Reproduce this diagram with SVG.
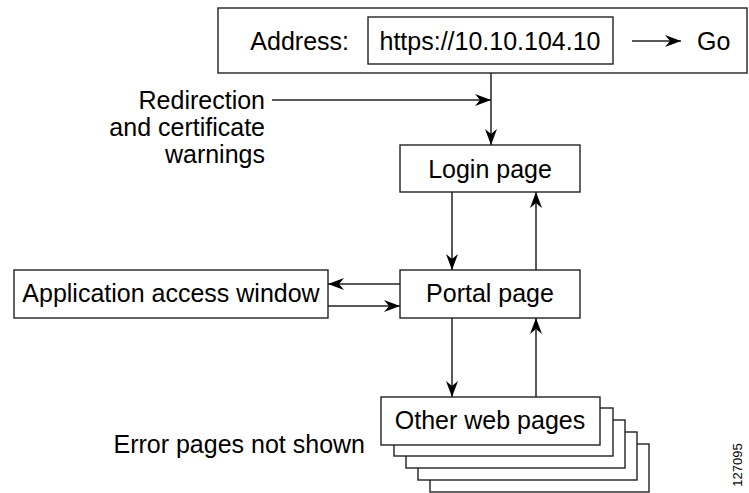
<svg xmlns="http://www.w3.org/2000/svg" width="749" height="493" viewBox="0 0 749 493">
<style>
text{font-family:"Liberation Sans",Arial,sans-serif;font-size:25px;fill:#000}
.box{fill:#fff;stroke:#222;stroke-width:1.4}
.ln{fill:none;stroke:#222;stroke-width:1.5}
</style>
<defs>
<marker id="ah" markerUnits="userSpaceOnUse" markerWidth="18" markerHeight="14" refX="16" refY="6.5" orient="auto">
<path d="M0,0.5 L16,6.5 L0,12.5 L5,6.5 z" fill="#000"/>
</marker>
</defs>
<rect width="749" height="493" fill="#fff"/>
<g id="address-bar">
<rect class="box" x="218" y="8" width="529" height="65"/>
<text x="349" y="50" text-anchor="end">Address:</text>
<rect class="box" x="368" y="17" width="245" height="47"/>
<text x="490" y="50" text-anchor="middle">https://10.10.104.10</text>
<text x="697" y="50">Go</text>
</g>
<g id="redirection-label">
<text x="265" y="109" text-anchor="end">Redirection</text>
<text x="265" y="136" text-anchor="end">and certificate</text>
<text x="265" y="163" text-anchor="end">warnings</text>
</g>
<g id="login">
<rect class="box" x="400" y="145" width="180" height="47"/>
<text x="490" y="178" text-anchor="middle">Login page</text>
</g>
<g id="portal">
<rect class="box" x="400" y="270" width="180" height="48"/>
<text x="490" y="302" text-anchor="middle">Portal page</text>
</g>
<g id="app-window">
<rect class="box" x="14" y="270" width="314" height="48"/>
<text x="171" y="302" text-anchor="middle">Application access window</text>
</g>
<g id="other-pages">
<rect class="box" x="430" y="444" width="219" height="48"/>
<rect class="box" x="418" y="432" width="219" height="48"/>
<rect class="box" x="406" y="420" width="219" height="48"/>
<rect class="box" x="394" y="408" width="219" height="48"/>
<rect class="box" x="381" y="397" width="219" height="48"/>
<text x="490" y="429" text-anchor="middle">Other web pages</text>
</g>
<g id="notes">
<text x="365" y="453" text-anchor="end">Error pages not shown</text>
<text transform="translate(742,465) rotate(-90)" text-anchor="middle" style="font-size:13px">127095</text>
</g>
<g id="connectors">
<line class="ln" x1="632" y1="41" x2="681" y2="41" marker-end="url(#ah)"/>
<line class="ln" x1="491" y1="73" x2="491" y2="145" marker-end="url(#ah)"/>
<line class="ln" x1="272" y1="100" x2="491" y2="100" marker-end="url(#ah)"/>
<line class="ln" x1="452" y1="192" x2="452" y2="270" marker-end="url(#ah)"/>
<line class="ln" x1="536" y1="270" x2="536" y2="192" marker-end="url(#ah)"/>
<line class="ln" x1="400" y1="284" x2="328" y2="284" marker-end="url(#ah)"/>
<line class="ln" x1="328" y1="306" x2="400" y2="306" marker-end="url(#ah)"/>
<line class="ln" x1="452" y1="318" x2="452" y2="397" marker-end="url(#ah)"/>
<line class="ln" x1="536" y1="397" x2="536" y2="318" marker-end="url(#ah)"/>
</g>
</svg>
